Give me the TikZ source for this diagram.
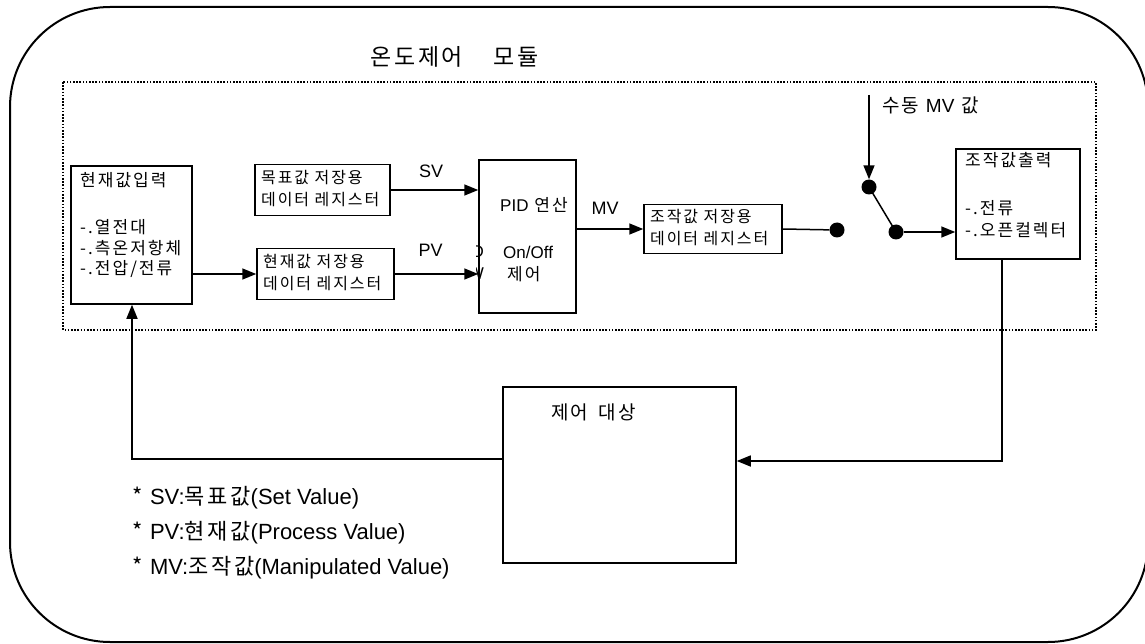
\documentclass[tikz,border=0pt]{standalone}
\usepackage{fontspec}
\setmainfont{Noto Sans CJK KR}[LetterSpace=12]
\newfontfamily\lat{Liberation Sans}
\usetikzlibrary{arrows.meta}
\begin{document}
\begin{tikzpicture}[x=1pt,y=-1pt,
  box/.style={draw, line width=1.5pt, inner sep=0pt},
  conn/.style={line width=1.5pt},
  arr/.style={conn, -{Triangle[length=14pt,width=11pt]}},
  sdot/.style={circle, fill, inner sep=0pt, minimum size=15pt},
  txt/.style={inner sep=0pt, anchor=west},
  fa/.style={font=\fontsize{16}{19}\selectfont},
  fb/.style={font=\fontsize{17}{20}\selectfont},
  fl/.style={font=\fontsize{18}{21}\selectfont\lat},
  fn/.style={font=\fontsize{22}{26}\selectfont}]
\useasboundingbox (0,0) rectangle (1145,644);
% outer frame and module frame
\draw[line width=2pt, rounded corners=100pt] (10,7) rectangle (1148,642);
\draw[line width=1.6pt, dash pattern=on 1.6pt off 1.6pt] (63,82) rectangle (1096,330);
\node[txt, font=\fontsize{23}{27}\selectfont] (title) at (370,57) {온도제어\hspace{30pt}모듈};
% boxes
\node[box, minimum width=121pt, minimum height=138pt] (in) at (131.5,235) {};
\node[box, minimum width=135pt, minimum height=51pt] (sv) at (322.5,190) {};
\node[box, minimum width=137pt, minimum height=51pt] (pv) at (325.5,274) {};
\node[box, minimum width=97pt, minimum height=153pt] (pid) at (527.5,236.5) {};
\node[box, minimum width=138pt, minimum height=49pt] (mvb) at (713,229) {};
\node[box, minimum width=124pt, minimum height=110pt] (out) at (1018,204) {};
\node[box, minimum width=233pt, minimum height=176pt] (plant) at (619.5,475) {};
% box texts
\node[txt, fb] (in1) at (80,180) {현재값입력};
\node[txt, fb] (in2) at (80,227) {-.열전대};
\node[txt, fb] (in3) at (80,248) {-.측온저항체};
\node[txt, fb] (in4) at (80,269) {-.전압/전류};
\node[txt, fa] (sv1) at (261,178) {목표값 저장용};
\node[txt, fa] (sv2) at (261,200) {데이터 레지스터};
\node[txt, fa] (pv1) at (263,262) {현재값 저장용};
\node[txt, fa] (pv2) at (263,284) {데이터 레지스터};
\node[txt, fb] (pid1) at (500,205) {{\lat PID} 연산};
\node[txt, fb] (pid2) at (503,252) {\lat On/Off};
\node[txt, fb] (pid3) at (507,274) {제어};
\begin{scope}
\clip (476,240) rectangle (484,286);
\node[anchor=east, inner sep=0pt, fb] (frag1) at (484,252) {\lat D};
\node[anchor=east, inner sep=0pt, fb] (frag2) at (484,274) {\lat W};
\end{scope}
\node[txt, fa] (mv1) at (650,217) {조작값 저장용};
\node[txt, fa] (mv2) at (650,239) {데이터 레지스터};
\node[txt, fb] (out1) at (965,160) {조작값출력};
\node[txt, fb] (out2) at (965,208) {-.전류};
\node[txt, fb] (out3) at (965,230) {-.오픈컬렉터};
\node[txt, font=\fontsize{19}{23}\selectfont] (pl1) at (551,412) {제어\hspace{10pt}대상};
% signal labels
\node[fl, inner sep=0pt] (lsv) at (431,171) {SV};
\node[fl, inner sep=0pt] (lpv) at (430.5,250) {PV};
\node[fl, inner sep=0pt] (lmv) at (605,208) {MV};
\node[txt, font=\fontsize{19}{23}\selectfont] (lman) at (882,105) {수동 {\lat MV} 값};
% switch
\node[sdot] (d1) at (837,230) {};
\node[sdot] (d2) at (869,187) {};
\node[sdot] (d3) at (896,232) {};
\coordinate (man) at (869,95);
\coordinate (c1) at (1002,461);
\coordinate (c2) at (132,459);
% connectors
\draw[arr] (sv.east) -- (sv.east -| pid.west);
\draw[arr] (pv.east) -- (pv.east -| pid.west);
\draw[arr] (in.east |- pv.west) -- (pv.west);
\draw[arr] (pid.east |- mvb.west) -- (mvb.west);
\draw[conn] (mvb.east) -- (d1);
\draw[conn] (d2.center) -- (d3.center);
\draw[arr] (d3) -- (d3 -| out.west);
\draw[arr] (man) -- (d2.north);
\draw[arr] (out.south -| c1) -- (c1) -- (c1 -| plant.east);
\draw[arr] (plant.west |- c2) -- (c2) -- (in.south -| c2);
% notes
\node[txt, fn] (n1) at (132,498) {* {\lat SV:}목표값{\lat (Set Value)}};
\node[txt, fn] (n2) at (132,533) {* {\lat PV:}현재값{\lat (Process Value)}};
\node[txt, fn] (n3) at (132,568) {* {\lat MV:}조작값{\lat (Manipulated Value)}};
\end{tikzpicture}
\end{document}
